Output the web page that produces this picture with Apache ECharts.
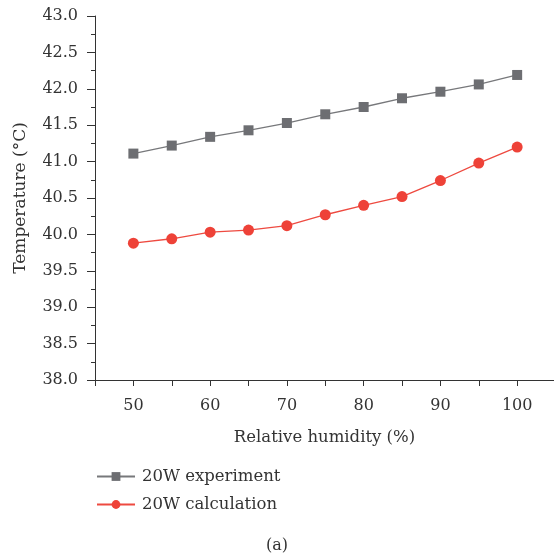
<!DOCTYPE html>
<html><head><meta charset="utf-8">
<script src="https://cdn.jsdelivr.net/npm/echarts@6/dist/echarts.min.js"></script>
<style>html,body{margin:0;padding:0;background:#fff}#c{width:554px;height:560px}</style>
</head><body><div id="c"></div>
<script>
const humidity = [50, 55, 60, 65, 70, 75, 80, 85, 90, 95, 100];
const experiment = [41.11, 41.22, 41.34, 41.43, 41.53, 41.65, 41.75, 41.87, 41.96, 42.06, 42.19];
const calculation = [39.88, 39.94, 40.03, 40.06, 40.12, 40.27, 40.40, 40.52, 40.74, 40.98, 41.20];
const seriesNames = ['20W experiment', '20W calculation'];
const xTitle = 'Relative humidity (%)';
const yTitle = 'Temperature (°C)';
const caption = '(a)';

const font = 'DejaVu Serif';
const chart = echarts.init(document.getElementById('c'));
chart.setOption({
  backgroundColor: '#fff',
  animation: false,
  title: {text: caption, left: 'center', top: 533, textStyle: {fontFamily: font, fontSize: 16, fontWeight: 'normal', color: '#333'}},
  grid: {left: 95, right: 0, top: 16, bottom: 180, containLabel: false},
  legend: {
    orient: 'vertical', left: 91, top: 463, itemWidth: 38, itemHeight: 11, itemGap: 11,
    textStyle: {fontFamily: font, fontSize: 16.5, color: '#333', padding: [0,0,0,2]},
    data: seriesNames
  },
  xAxis: {
    type: 'value', min: 45, max: 104.8, interval: 5,
    name: xTitle, nameLocation: 'middle', nameGap: 49,
    nameTextStyle: {fontFamily: font, fontSize: 16.5, color: '#333'},
    axisLine: {lineStyle: {color: '#333', width: 1}},
    axisTick: {length: 6, lineStyle: {color: '#333'}},
    axisLabel: {fontFamily: font, fontSize: 16, color: '#333', margin: 18, showMaxLabel: false,
      formatter: v => (v % 10 === 0 && v >= 50 && v <= 100) ? String(v) : ''},
    splitLine: {show: false}
  },
  yAxis: {
    type: 'value', min: 38, max: 43, interval: 0.5,
    name: yTitle, nameLocation: 'middle', nameGap: 66, nameRotate: 90,
    nameTextStyle: {fontFamily: font, fontSize: 17, color: '#333'},
    axisLine: {show: true, lineStyle: {color: '#333', width: 1}},
    axisTick: {show: true, length: 8, lineStyle: {color: '#333'}},
    minorTick: {show: true, splitNumber: 2, length: 4, lineStyle: {color: '#333'}},
    axisLabel: {fontFamily: font, fontSize: 16, color: '#333', margin: 17, formatter: v => v.toFixed(1)},
    splitLine: {show: false}
  },
  series: [
    {name: seriesNames[0], type: 'line', data: humidity.map((h, i) => [h, experiment[i]]),
     symbol: 'rect', symbolSize: 10, lineStyle: {color: '#77787b', width: 1.3},
     itemStyle: {color: '#6d6e72'}},
    {name: seriesNames[1], type: 'line', data: humidity.map((h, i) => [h, calculation[i]]),
     symbol: 'circle', symbolSize: 11, lineStyle: {color: '#ee4a40', width: 1.3},
     itemStyle: {color: '#ee4238'}}
  ]
});
</script></body></html>
